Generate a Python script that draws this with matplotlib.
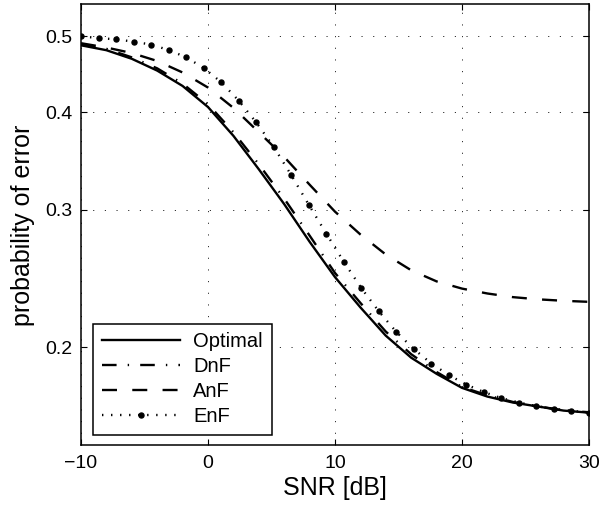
import numpy as np
import matplotlib
matplotlib.use("Agg")
import matplotlib.pyplot as plt
from matplotlib.ticker import NullLocator, FixedLocator, FixedFormatter

plt.rcParams['font.family'] = ['Liberation Sans', 'DejaVu Sans']
plt.rcParams['lines.scale_dashes'] = False

# ---- data ----
snr = [-10, -8, -6, -4, -2, 0, 2, 4, 6, 8, 10, 12, 14, 16, 18, 20, 22, 24, 26, 28, 30]
optimal = [0.487, 0.480, 0.468, 0.452, 0.432, 0.406, 0.373, 0.338, 0.305, 0.273, 0.246,
           0.225, 0.207, 0.194, 0.185, 0.1775, 0.173, 0.170, 0.168, 0.166, 0.165]
dnf = [0.488, 0.482, 0.470, 0.455, 0.435, 0.4095, 0.377, 0.343, 0.310, 0.278, 0.249,
       0.228, 0.2095, 0.196, 0.186, 0.178, 0.1736, 0.1703, 0.1681, 0.1661, 0.1652]
anf = [0.490, 0.4838, 0.476, 0.465, 0.4495, 0.430, 0.405, 0.377, 0.3505, 0.323, 0.2983,
       0.2789, 0.2629, 0.251, 0.2429, 0.2378, 0.2344, 0.2319, 0.2304, 0.2294, 0.2287]
snr_enf = np.linspace(-10, 30, 30)
enf = [0.500, 0.4975, 0.4956, 0.4923, 0.4880, 0.4803, 0.4701, 0.4556, 0.4369, 0.4138,
       0.3881, 0.3611, 0.3323, 0.3045, 0.2797, 0.2574, 0.2382, 0.2224, 0.2093, 0.1990,
       0.1907, 0.1843, 0.1792, 0.1753, 0.1722, 0.1700, 0.1682, 0.1669, 0.1659, 0.1650]

xticks = [-10, 0, 10, 20, 30]
yticks = [0.2, 0.3, 0.4, 0.5]
ytick_labels = ['0.2', '0.3', '0.4', '0.5']

W, H = 601, 508
fig = plt.figure(figsize=(W / 100, H / 100), dpi=100)
ax = fig.add_axes([81 / W, 1 - 445 / H, 508 / W, 441 / H])

lw = 1.7
ax.plot(snr, optimal, color='k', lw=lw, linestyle='-', label='Optimal')
ax.plot(snr, dnf, color='k', lw=lw, linestyle=(0, (10.5, 8, 1, 8)), label='DnF')
ax.plot(snr, anf, color='k', lw=lw, linestyle=(0, (10.8, 11)), label='AnF')
ax.plot(snr_enf, enf, color='k', lw=lw, linestyle=(0, (1, 5.5)), marker='o',
        markersize=3.6, markerfacecolor='k', markeredgecolor='k', label='EnF')

ax.set_yscale('log')
ax.set_xlim(-10, 30)
ax.set_ylim(0.15, 0.55)
ax.xaxis.set_major_locator(FixedLocator(xticks))
ax.yaxis.set_major_locator(FixedLocator(yticks))
ax.yaxis.set_major_formatter(FixedFormatter(ytick_labels))
ax.yaxis.set_minor_locator(NullLocator())
ax.xaxis.set_minor_locator(NullLocator())

ax.grid(True, which='major', color='k', linewidth=0.6, linestyle=(0, (0.8, 7.6)))
ax.tick_params(direction='in', top=True, right=True, length=4.5, width=0.8,
               labelsize=14, colors='k')
ax.tick_params(axis='x', pad=7)
ax.tick_params(axis='y', pad=6)
for s in ax.spines.values():
    s.set_linewidth(1.1)

fig.text(335 / W, 1 - 488 / H, 'SNR [dB]', fontsize=18, ha='center', va='center')
fig.text(23 / W, 1 - 225 / H, 'probability of error', fontsize=18, rotation=90,
         ha='center', va='center')

leg = ax.legend(loc='lower left', bbox_to_anchor=((93 - 81) / 508, (445 - 435) / 441),
                borderaxespad=0, fontsize=14.5, handlelength=3.9, handletextpad=0.65,
                labelspacing=0.30, borderpad=0.43, numpoints=1, fancybox=False,
                framealpha=1, edgecolor='k')
leg.get_frame().set_linewidth(1.1)

fig.savefig('out.png', dpi=100)
